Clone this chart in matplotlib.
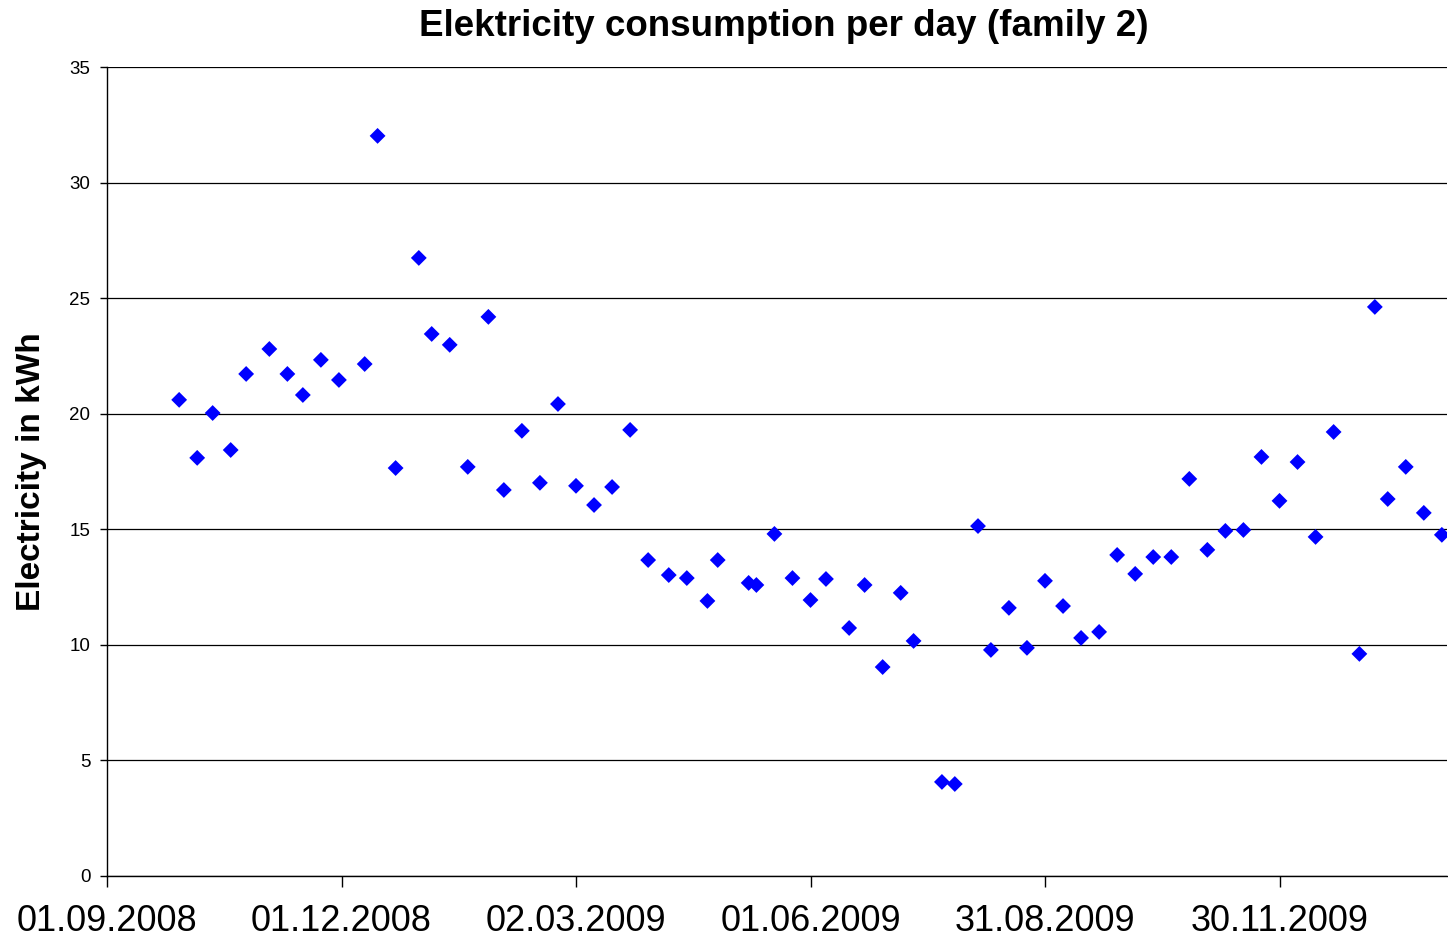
import matplotlib
matplotlib.use("Agg")
import matplotlib.pyplot as plt
import datetime as dt

plt.rcParams['font.family'] = ['Liberation Sans', 'DejaVu Sans']

start = dt.date(2008, 9, 1)
day_offsets = [28, 35, 41, 48, 54, 63, 70, 76, 83, 90, 100, 105, 112, 121, 126, 133, 140, 148,
               154, 161, 168, 175, 182, 189, 196, 203, 210, 218, 225, 233, 237, 249, 252, 259,
               266, 273, 279, 288, 294, 301, 308, 313, 324, 329, 338, 343, 350, 357, 364, 371,
               378, 385, 392, 399, 406, 413, 420, 427, 434, 441, 448, 455, 462, 469, 476, 486,
               492, 497, 504, 511, 518]
values = [20.6, 18.09, 20.03, 18.43, 21.72, 22.8, 21.72, 20.81, 22.33, 21.46, 22.15, 32.02,
          17.65, 26.74, 23.45, 22.98, 17.7, 24.19, 16.7, 19.26, 17.01, 20.42, 16.88, 16.05,
          16.83, 19.3, 13.67, 13.02, 12.89, 11.9, 13.67, 12.68, 12.59, 14.8, 12.89, 11.94,
          12.85, 10.73, 12.59, 9.04, 12.25, 10.17, 4.07, 3.98, 15.14, 9.78, 11.6, 9.87, 12.77,
          11.68, 10.3, 10.56, 13.89, 13.07, 13.8, 13.8, 17.18, 14.11, 14.93, 14.97, 18.13,
          16.23, 17.91, 14.67, 19.21, 9.61, 24.62, 16.31, 17.7, 15.71, 14.76]
dates = [start + dt.timedelta(days=d) for d in day_offsets]

tick_dates = [start + dt.timedelta(days=91 * i) for i in range(6)]
tick_labels = [d.strftime('%d.%m.%Y') for d in tick_dates]
y_ticks = [0, 5, 10, 15, 20, 25, 30, 35]

fig = plt.figure(figsize=(14.48, 9.41), dpi=100)
ax = fig.add_axes([107 / 1448, 1 - 876 / 941, (1447 - 107) / 1448, (876 - 67) / 941])

ax.scatter(dates, values, marker='D', s=65, color='#0000FF', edgecolors='none', zorder=3, clip_on=True)

ax.set_xlim(start, start + dt.timedelta(days=520))
ax.set_ylim(0, 35)
ax.set_yticks(y_ticks)
ax.set_yticklabels([str(v) for v in y_ticks])
ax.set_xticks(tick_dates)
ax.set_xticklabels(tick_labels)
ax.tick_params(axis='x', direction='out', length=8, width=1, pad=12, labelsize=26)
ax.tick_params(axis='y', direction='out', length=5, width=1, pad=7, labelsize=13.5)
ax.yaxis.grid(True, color='black', linewidth=0.9)
ax.set_axisbelow(True)
for s in ['top', 'right']:
    ax.spines[s].set_visible(False)
ax.spines['left'].set_linewidth(1)
ax.spines['bottom'].set_linewidth(1)

ax.set_ylabel('Electricity in kWh', fontsize=24, fontweight='bold', labelpad=16)
fig.text(784 / 1448, 1 - 27 / 941, 'Elektricity consumption per day (family 2)',
         ha='center', va='center', fontsize=26.5, fontweight='bold')

fig.savefig('out.png', dpi=100)
